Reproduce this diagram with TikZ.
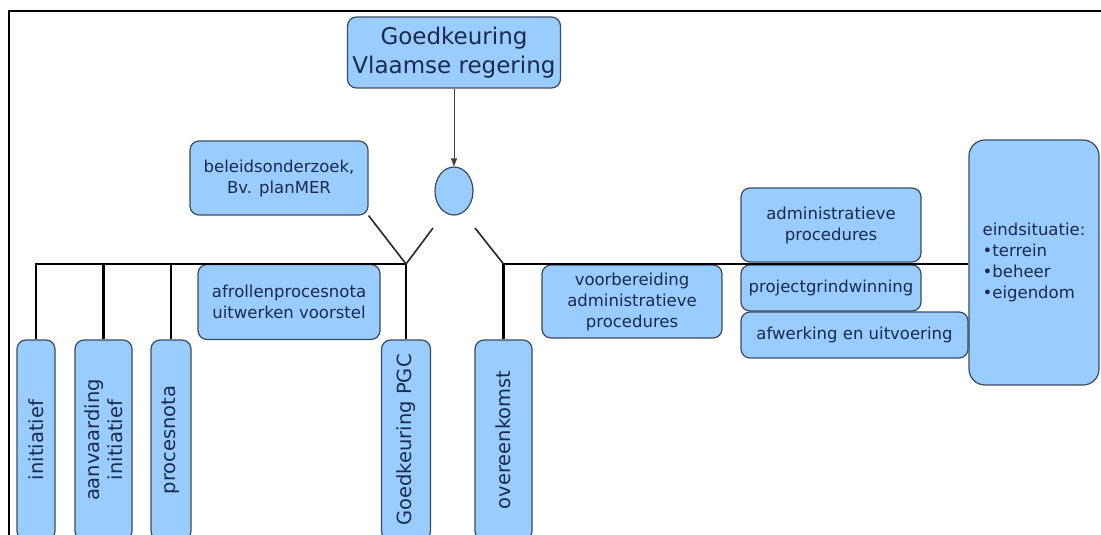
\documentclass[tikz,border=0pt]{standalone}
\usepackage{fontspec}
\setmainfont{DejaVu Sans}
\usetikzlibrary{arrows.meta,shapes.geometric}
\definecolor{boxblue}{HTML}{99CCFF}
\definecolor{edgecol}{HTML}{3C4A5E}
\definecolor{txtcol}{HTML}{1B2A4E}
\begin{document}
\begin{tikzpicture}[x=1pt,y=-1pt,
  box/.style={draw=edgecol, line width=1.2pt, fill=boxblue, rounded corners=9pt, text=txtcol, align=center, inner sep=0pt, font=\fontsize{16.5}{21}\selectfont},
  vbox/.style={box, rotate=90, minimum width=200pt, font=\fontsize{19.5}{23}\selectfont},
  link/.style={line width=2.8pt, black},
  slant/.style={line width=1.6pt, black!85},
]
\useasboundingbox (0,0) rectangle (1101,535);
\clip (0,0) rectangle (1101,535);
\fill[white] (0,0) rectangle (1101,535);
% frame
\draw[line width=2pt] (9,540) -- (9,11) -- (1110,11);
% nodes
\node[box, minimum width=213pt, minimum height=71pt, font=\fontsize{23}{29}\selectfont] (top) at (454,52.5) {Goedkeuring\\Vlaamse regering};
\node[draw=edgecol, line width=1.2pt, fill=boxblue, ellipse, minimum width=38pt, minimum height=48pt, inner sep=0pt] (ell) at (454,191) {};
\node[box, minimum width=178pt, minimum height=74pt] (bel) at (279,178) {beleidsonderzoek,\\Bv. planMER};
\node[box, minimum width=182pt, minimum height=75pt] (afr) at (289,302) {afrollenprocesnota\\uitwerken voorstel};
\node[box, minimum width=180pt, minimum height=73pt] (voor) at (632,301.5) {voorbereiding\\administratieve\\procedures};
\node[box, minimum width=180pt, minimum height=74pt] (adm) at (831,225) {administratieve\\procedures};
\node[box, minimum width=180pt, minimum height=46pt] (proj) at (831,288) {projectgrindwinning};
\node[box, minimum width=227pt, minimum height=46pt] (afw) at (854.5,335) {afwerking en uitvoering};
\node[box, minimum width=130pt, minimum height=245pt, rounded corners=16pt, align=left] (eind) at (1034,262.5) {eindsituatie:\\•terrein\\•beheer\\•eigendom};
\node[vbox, minimum height=38pt] (ini) at (36,440) {initiatief};
\node[vbox, minimum height=57pt] (aan) at (103.5,440) {aanvaarding\\initiatief};
\node[vbox, minimum height=40pt] (pro) at (171,440) {procesnota};
\node[vbox, minimum height=49pt] (gpgc) at (406,440) {Goedkeuring PGC};
\node[vbox, minimum height=57pt] (ovk) at (503.5,440) {overeenkomst};
% connectors
\coordinate (jl) at (406,264);
\coordinate (jr) at (503.5,264);
\coordinate (el) at (433,228);
\coordinate (er) at (475,228);
\draw[-{Triangle[length=8pt,width=6pt]}, line width=0.8pt, black!75] (top) -- (ell);
\draw[link] (ini.east) |- (jl);
\draw[link] (aan.east) -- (aan.east |- jl);
\draw[link] (pro.east) -- (pro.east |- jl);
\draw[link] (gpgc.east) -- (jl);
\draw[link] (ovk.east) |- (eind.west |- jr);
\draw[slant] (el) -- (jl);
\draw[slant] (er) -- (jr);
\draw[slant] (bel.south east) -- (jl);
\end{tikzpicture}
\end{document}
